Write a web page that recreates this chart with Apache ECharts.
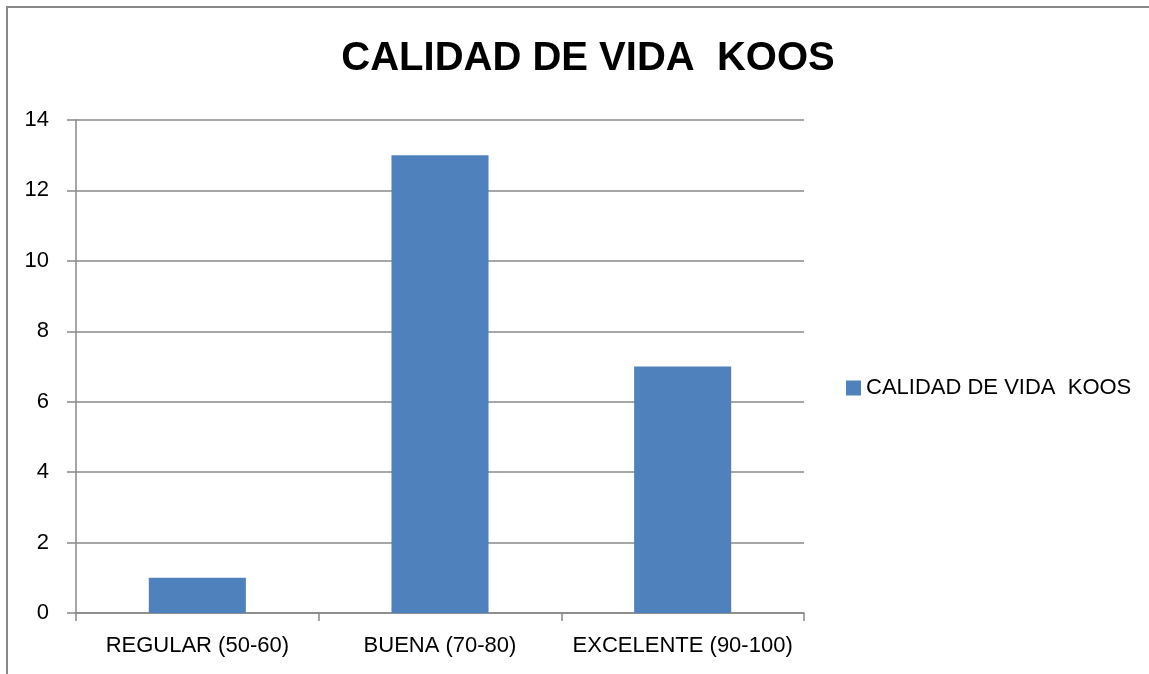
<!DOCTYPE html>
<html>
<head>
<meta charset="utf-8">
<script src="https://cdn.jsdelivr.net/npm/echarts@6/dist/echarts.min.js"></script>
<style>
  html, body { margin: 0; padding: 0; background: #fff; }
  #chart { width: 1149px; height: 674px; }
</style>
</head>
<body>
<div id="chart"></div>
<script>
const TITLE = 'CALIDAD DE VIDA  KOOS';
const categories = ['REGULAR (50-60)', 'BUENA (70-80)', 'EXCELENTE (90-100)'];
const values = [1, 13, 7];
const seriesName = 'CALIDAD DE VIDA  KOOS';

const FONT = '"Liberation Sans", Arial, sans-serif';
const BAR = '#4F81BD';
const LINE = '#888888';

const chart = echarts.init(document.getElementById('chart'));
chart.setOption({
  backgroundColor: '#ffffff',
  animation: false,
  title: {
    text: TITLE,
    left: 583, top: 34, textAlign: 'center',
    textStyle: { fontFamily: FONT, fontSize: 40, fontWeight: 'bold', color: '#000' },
  },
  legend: {
    data: [seriesName],
    left: 841, top: 372,
    icon: 'rect', itemWidth: 15, itemHeight: 15, itemGap: 7,
    textStyle: { fontFamily: FONT, fontSize: 22, color: '#000' },
  },
  grid: { left: 76, right: 345, top: 120, bottom: 61 },
  xAxis: {
    type: 'category',
    data: categories,
    axisLine: { lineStyle: { color: LINE, width: 1.5 } },
    axisTick: { show: true, length: 8, interval: 0, alignWithLabel: false, lineStyle: { color: LINE, width: 1.5 } },
    axisLabel: { fontFamily: FONT, fontSize: 22, color: '#000', margin: 22, interval: 0, hideOverlap: false },
  },
  yAxis: {
    type: 'value',
    min: 0, max: 14, interval: 2,
    axisLine: { show: true, lineStyle: { color: LINE, width: 1.5 } },
    axisTick: { show: true, length: 9, lineStyle: { color: LINE, width: 1.5 } },
    axisLabel: { fontFamily: FONT, fontSize: 22, color: '#000', margin: 27 },
    splitLine: { lineStyle: { color: LINE, width: 1.5 } },
  },
  series: [{
    name: seriesName,
    type: 'bar',
    data: values,
    barWidth: '40%',
    itemStyle: { color: BAR },
  }],
  graphic: [{
    type: 'rect',
    shape: { x: 7, y: 7, width: 1200, height: 700 },
    style: { fill: 'none', stroke: LINE, lineWidth: 2 },
    silent: true,
  }],
});
</script>
</body>
</html>
